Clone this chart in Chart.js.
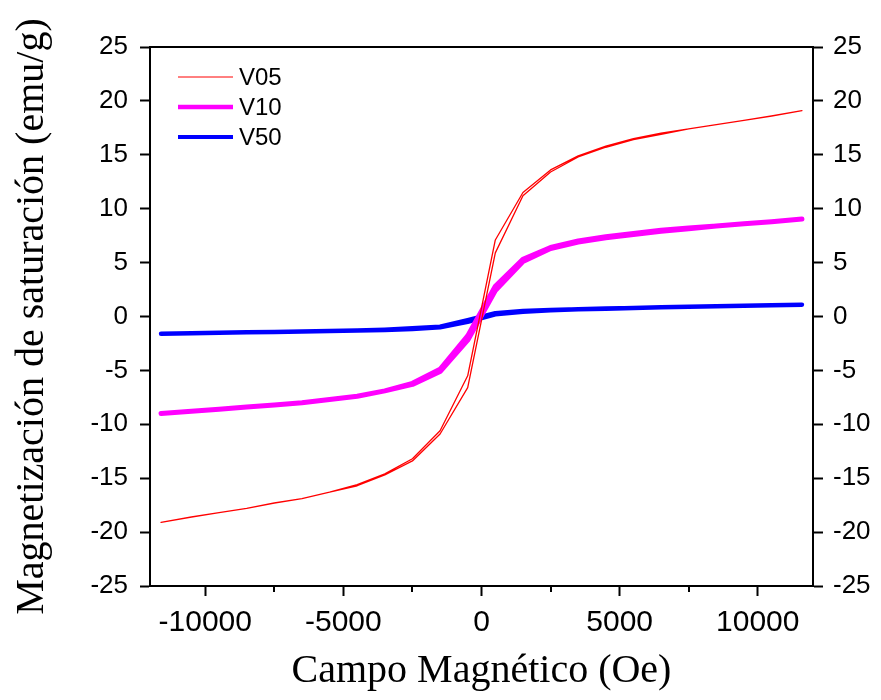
<!DOCTYPE html>
<html><head><meta charset="utf-8">
<script src="https://cdn.jsdelivr.net/npm/chart.js@4.4.0/dist/chart.umd.min.js"></script>
<style>html,body{margin:0;padding:0;background:#fff;}#wrap{width:881px;height:700px;}</style>
</head><body><div id="wrap"><canvas id="c" width="881" height="700"></canvas></div>
<script>
// Field values (Oe), common to both branches, listed from negative to positive
const fieldOe = [-11600,-10500,-9500,-8500,-7500,-6500,-5500,-4500,-3500,-2500,-1500,-500,
                 500,1500,2500,3500,4500,5500,6500,7500,8500,9500,10500,11600];
// Ascending branch (field increasing) and descending branch (field decreasing), same field order
const v05Up   = [-19.1,-18.6,-18.2,-17.8,-17.3,-16.9,-16.3,-15.7,-14.7,-13.4,-10.9,-6.6,
                 5.9,11.2,13.4,14.8,15.7,16.4,16.9,17.4,17.8,18.2,18.6,19.1];
const v05Down = [-19.1,-18.6,-18.2,-17.8,-17.3,-16.9,-16.3,-15.6,-14.6,-13.2,-10.6,-5.5,
                 7.1,11.5,13.6,14.9,15.8,16.5,17.0,17.4,17.8,18.2,18.6,19.1];
const v10Up   = [-9.0,-8.8,-8.6,-8.4,-8.2,-8.0,-7.7,-7.4,-6.9,-6.3,-5.1,-2.2,
                 2.4,5.1,6.3,6.9,7.3,7.6,7.9,8.15,8.4,8.6,8.8,9.05];
const v10Down = [-9.0,-8.8,-8.6,-8.4,-8.2,-8.0,-7.7,-7.4,-6.9,-6.2,-4.9,-1.8,
                 2.8,5.3,6.4,7.0,7.4,7.7,8.0,8.2,8.4,8.6,8.8,9.05];
const v50Up   = [-1.6,-1.55,-1.5,-1.47,-1.43,-1.4,-1.35,-1.3,-1.25,-1.15,-1.0,-0.5,
                 0.2,0.45,0.58,0.67,0.73,0.8,0.85,0.9,0.95,1.0,1.05,1.1];
const v50Down = [-1.6,-1.55,-1.5,-1.47,-1.43,-1.4,-1.35,-1.3,-1.22,-1.1,-0.95,-0.35,
                 0.3,0.5,0.6,0.68,0.74,0.8,0.85,0.9,0.95,1.0,1.05,1.1];
const seriesLabels = ['V05','V10','V50'];
const xTickValues = [-10000,-5000,0,5000,10000];
const xMinorTickValues = [-7500,-2500,2500,7500];
const yTickValues = [-25,-20,-15,-10,-5,0,5,10,15,20,25];

function loop(up, down){
  const pts = [];
  for (let i = fieldOe.length - 1; i >= 0; i--) pts.push({x: fieldOe[i], y: down[i]});
  for (let i = 0; i < fieldOe.length; i++) pts.push({x: fieldOe[i], y: up[i]});
  return pts;
}

Chart.defaults.font.family = "'Liberation Sans', Arial, sans-serif";
Chart.defaults.color = '#000';

const minorTicks = {
  id: 'minorTicks',
  afterDraw(chart){
    const ctx = chart.ctx, xs = chart.scales.x, bottom = chart.chartArea.bottom;
    ctx.save(); ctx.strokeStyle = '#000'; ctx.lineWidth = 2;
    xMinorTickValues.forEach(v => {
      const px = Math.round(xs.getPixelForValue(v));
      ctx.beginPath(); ctx.moveTo(px, bottom); ctx.lineTo(px, bottom + 6); ctx.stroke();
    });
    ctx.restore();
  }
};
const customLegend = {
  id: 'customLegend',
  afterDraw(chart){
    const ctx = chart.ctx, ca = chart.chartArea;
    ctx.save();
    ctx.font = "24px 'Liberation Sans', Arial, sans-serif";
    ctx.textBaseline = 'middle'; ctx.textAlign = 'left'; ctx.fillStyle = '#000';
    chart.data.datasets.forEach((ds, i) => {
      const y = ca.top + 30 + 30 * i;
      ctx.strokeStyle = ds.borderColor; ctx.lineWidth = ds.legendWidth;
      ctx.beginPath(); ctx.moveTo(ca.left + 28, y); ctx.lineTo(ca.left + 83, y); ctx.stroke();
      ctx.fillText(ds.label, ca.left + 89, y + 1);
    });
    ctx.restore();
  }
};

const plainLabel = v => String(v);

const yCommon = (pos, w, pad) => ({
  type: 'linear', position: pos, min: -25, max: 25,
  afterBuildTicks: s => { s.ticks = yTickValues.map(v => ({value: v})); },
  afterFit: s => { s.width = w; },
  ticks: {font: {size: 26}, color: '#000', padding: pad, callback: plainLabel},
  grid: {drawOnChartArea: false, drawTicks: true, tickLength: 10, tickWidth: 2, tickColor: '#000'},
  border: {display: true, color: '#000', width: 2}
});

const yLeft = yCommon('left', 150, 12);
yLeft.title = {display: true, text: 'Magnetización de saturación (emu/g)',
  font: {family: "'Liberation Serif', 'Times New Roman', serif", size: 40}, color: '#000',
  padding: {top: 8, bottom: 0}};

new Chart(document.getElementById('c'), {
  type: 'scatter',
  data: {datasets: [
    {label: seriesLabels[0], data: loop(v05Up, v05Down), borderColor: '#FF0000', borderWidth: 1.3, legendWidth: 1},
    {label: seriesLabels[1], data: loop(v10Up, v10Down), borderColor: '#FF00FF', borderWidth: 5, legendWidth: 4.5},
    {label: seriesLabels[2], data: loop(v50Up, v50Down), borderColor: '#0000FF', borderWidth: 4.5, legendWidth: 4}
  ].map(d => Object.assign({showLine: true, pointRadius: 0, pointHoverRadius: 0, fill: false, tension: 0,
      borderJoinStyle: 'round', borderCapStyle: 'round'}, d))},
  options: {
    responsive: false, animation: false, devicePixelRatio: 1,
    layout: {padding: {top: 47, left: 0, right: 0, bottom: 0}},
    plugins: {legend: {display: false}, tooltip: {enabled: false}},
    scales: {
      x: {
        type: 'linear', position: 'bottom', min: -12000, max: 12000,
        afterBuildTicks: s => { s.ticks = xTickValues.map(v => ({value: v})); },
        afterFit: s => { s.height = 114; },
        ticks: {font: {size: 30}, color: '#000', padding: 9, maxRotation: 0, autoSkip: false, callback: plainLabel},
        grid: {drawOnChartArea: false, drawTicks: true, tickLength: 10, tickWidth: 2, tickColor: '#000'},
        border: {display: true, color: '#000', width: 2},
        title: {display: true, text: 'Campo Magnético (Oe)',
          font: {family: "'Liberation Serif', 'Times New Roman', serif", size: 40}, color: '#000',
          padding: {top: 0, bottom: 5}}
      },
      x2: {
        type: 'linear', position: 'top', min: -12000, max: 12000,
        afterFit: s => { s.height = 0; },
        ticks: {display: false},
        grid: {drawOnChartArea: false, drawTicks: false},
        border: {display: true, color: '#000', width: 2}
      },
      y: yLeft,
      y2: yCommon('right', 68, 10)
    }
  },
  plugins: [minorTicks, customLegend]
});
</script></body></html>
